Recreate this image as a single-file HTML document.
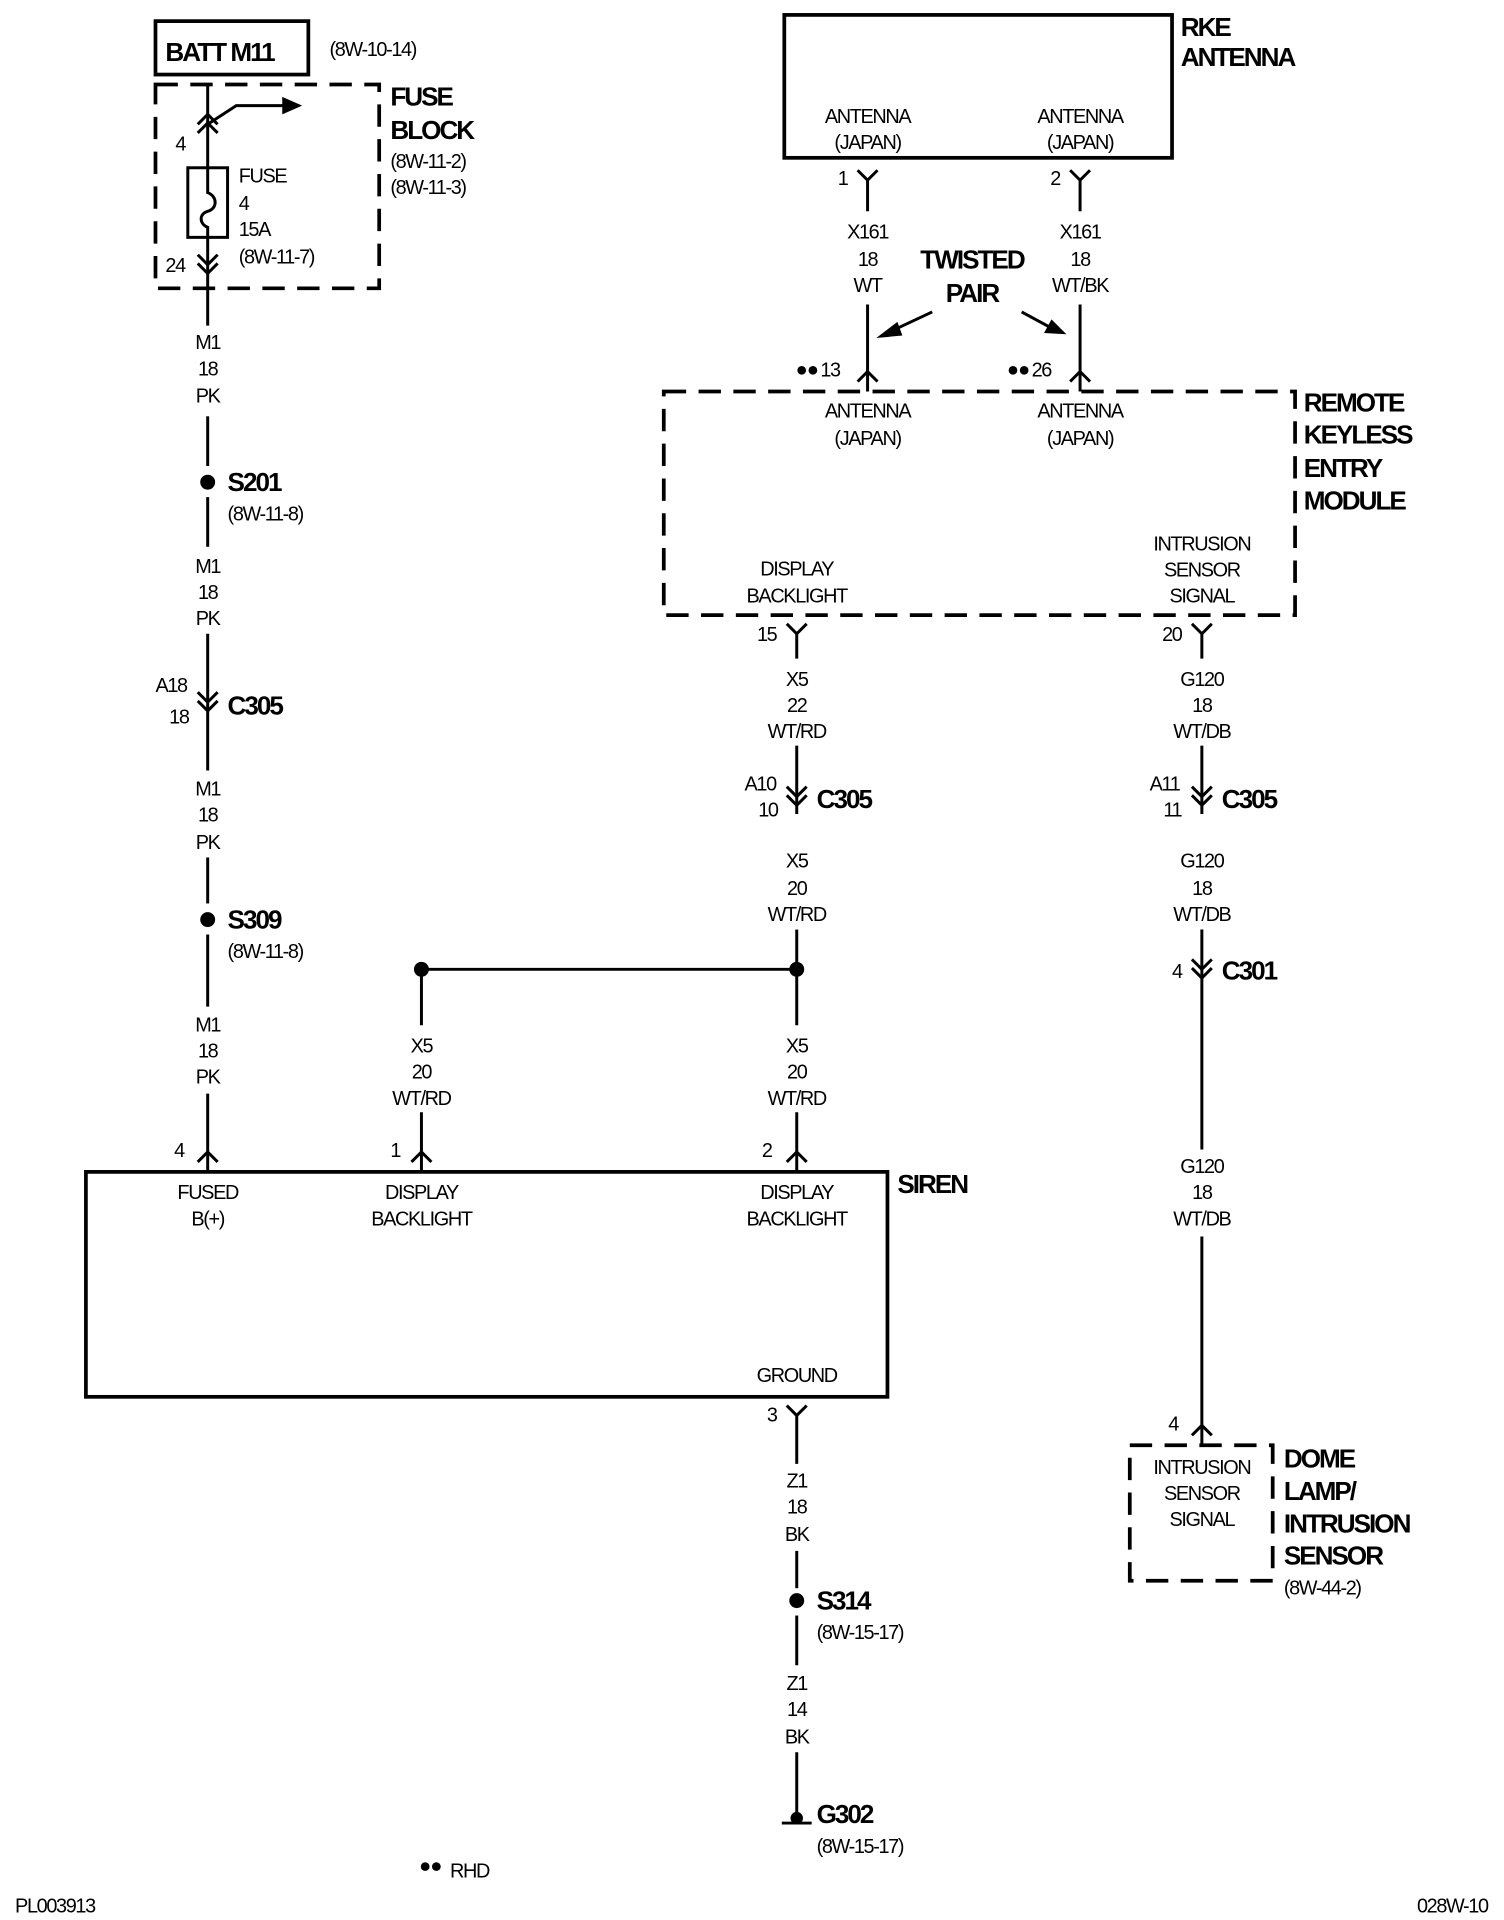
<!DOCTYPE html>
<html><head><style>
html,body{margin:0;padding:0;background:#fff;}
svg{display:block}
text{font-family:"Liberation Sans Narrow","Liberation Sans",sans-serif;fill:#000;}
.n{font-size:16px;text-anchor:middle;letter-spacing:-1.1px}
.l{font-size:16px;letter-spacing:-1.1px}
.b{font-size:21px;font-weight:bold;letter-spacing:-1.6px}
</style></head><body>
<svg width="1504" height="1920" viewBox="0 0 1210 1545" xmlns="http://www.w3.org/2000/svg">
<g stroke="#000" stroke-width="2.4" fill="none">
<rect x="125" y="17" width="123" height="43" stroke-width="3"/>
<rect x="125" y="68" width="180" height="164" stroke-width="3" stroke-dasharray="18,10"/>
<line x1="167" y1="68" x2="167" y2="262"/>
<path d="M159 107 L167 99 L175 107 M159 100 L167 92 L175 100"/>
<path d="M167 100 L190 85 L228 85"/>
<rect x="151" y="135" width="32" height="56" fill="#fff"/>
<path d="M167 135 V155 C175 158 175 168 167 170 C160 172 160 180 167 183 V191"/>
<path d="M159 205 L167 213 L175 205 M159 212 L167 220 L175 212"/>
<line x1="167" y1="335" x2="167" y2="375"/>
<line x1="167" y1="400" x2="167" y2="440"/>
<line x1="167" y1="510" x2="167" y2="620"/>
<path d="M159 557 L167 565 L175 557 M159 564 L167 572 L175 564"/>
<line x1="167" y1="690" x2="167" y2="727"/>
<line x1="167" y1="752" x2="167" y2="810"/>
<line x1="167" y1="880" x2="167" y2="943"/>
<path d="M159 935 L167 927 L175 935"/>
<rect x="69" y="943" width="645" height="181" stroke-width="3"/>
<line x1="339" y1="780" x2="641" y2="780"/>
<line x1="339" y1="780" x2="339" y2="825"/>
<line x1="339" y1="895" x2="339" y2="943"/>
<path d="M331 935 L339 927 L347 935"/>
<line x1="641" y1="780" x2="641" y2="825"/>
<line x1="641" y1="895" x2="641" y2="943"/>
<path d="M633 935 L641 927 L649 935"/>
<rect x="631" y="12" width="312" height="115" stroke-width="3"/>
<path d="M690 137 L698 145 L706 137 M698 145 V170"/>
<path d="M861 137 L869 145 L877 137 M869 145 V170"/>
<line x1="698" y1="245" x2="698" y2="315"/>
<path d="M690 307 L698 299 L706 307"/>
<line x1="869" y1="245" x2="869" y2="315"/>
<path d="M861 307 L869 299 L877 307"/>
<line x1="750" y1="251" x2="718" y2="266"/>
<line x1="822" y1="251" x2="846" y2="264"/>
<rect x="534" y="315" width="508" height="180" stroke-width="3" stroke-dasharray="18,10"/>
<path d="M633 502 L641 510 L649 502 M641 510 V530"/>
<path d="M959 502 L967 510 L975 502 M967 510 V530"/>
<line x1="641" y1="600" x2="641" y2="655"/>
<path d="M633 633 L641 641 L649 633 M633 640 L641 648 L649 640"/>
<line x1="641" y1="748" x2="641" y2="780"/>
<line x1="967" y1="600" x2="967" y2="655"/>
<path d="M959 633 L967 641 L975 633 M959 640 L967 648 L975 640"/>
<line x1="967" y1="748" x2="967" y2="925"/>
<path d="M959 772 L967 780 L975 772 M959 779 L967 787 L975 779"/>
<line x1="967" y1="995" x2="967" y2="1163"/>
<path d="M959 1155 L967 1147 L975 1155"/>
<rect x="909" y="1163" width="115" height="109" stroke-width="3" stroke-dasharray="18,10"/>
<path d="M633 1131 L641 1139 L649 1131 M641 1139 V1178"/>
<line x1="641" y1="1248" x2="641" y2="1278"/>
<line x1="641" y1="1300" x2="641" y2="1340"/>
<line x1="641" y1="1410" x2="641" y2="1460"/>
<line x1="629" y1="1467" x2="653" y2="1467"/>
</g>
<g fill="#000">
<polygon points="243,85 227,78 227,92"/>
<polygon points="705,272 722,259 726,270"/>
<polygon points="858,269 840,268 846,257"/>
<circle cx="167" cy="388" r="6"/>
<circle cx="167" cy="740" r="6"/>
<circle cx="339" cy="780" r="6"/>
<circle cx="641" cy="780" r="6"/>
<circle cx="641" cy="1288" r="6"/>
<circle cx="641" cy="1463" r="5"/>
<circle cx="645" cy="298" r="3.5"/><circle cx="654" cy="298" r="3.5"/>
<circle cx="815" cy="298" r="3.5"/><circle cx="824" cy="298" r="3.5"/>
<circle cx="342" cy="1502" r="3.5"/><circle cx="351" cy="1502" r="3.5"/>
</g>
<text class="b" x="133" y="49">BATT M11</text>
<text class="l" x="265" y="45">(8W-10-14)</text>
<text class="b" x="314" y="85">FUSE</text>
<text class="b" x="314" y="112">BLOCK</text>
<text class="l" x="314" y="135">(8W-11-2)</text>
<text class="l" x="314" y="156">(8W-11-3)</text>
<text class="l" x="141" y="121">4</text>
<text class="l" x="192" y="147">FUSE</text>
<text class="l" x="192" y="169">4</text>
<text class="l" x="192" y="190">15A</text>
<text class="l" x="192" y="212">(8W-11-7)</text>
<text class="l" x="133" y="219">24</text>
<g class="n">
<text x="167" y="281">M1</text><text x="167" y="302">18</text><text x="167" y="324">PK</text>
<text x="167" y="461">M1</text><text x="167" y="482">18</text><text x="167" y="503">PK</text>
<text x="167" y="640">M1</text><text x="167" y="661">18</text><text x="167" y="683">PK</text>
<text x="167" y="830">M1</text><text x="167" y="851">18</text><text x="167" y="872">PK</text>
<text x="339" y="847">X5</text><text x="339" y="868">20</text><text x="339" y="889">WT/RD</text>
<text x="641" y="847">X5</text><text x="641" y="868">20</text><text x="641" y="889">WT/RD</text>
<text x="167" y="965">FUSED</text><text x="167" y="986">B(+)</text>
<text x="339" y="965">DISPLAY</text><text x="339" y="986">BACKLIGHT</text>
<text x="641" y="965">DISPLAY</text><text x="641" y="986">BACKLIGHT</text>
<text x="641" y="1112">GROUND</text>
<text x="698" y="99">ANTENNA</text><text x="698" y="120">(JAPAN)</text>
<text x="869" y="99">ANTENNA</text><text x="869" y="120">(JAPAN)</text>
<text x="698" y="192">X161</text><text x="698" y="214">18</text><text x="698" y="235">WT</text>
<text x="869" y="192">X161</text><text x="869" y="214">18</text><text x="869" y="235">WT/BK</text>
<text x="698" y="336">ANTENNA</text><text x="698" y="358">(JAPAN)</text>
<text x="869" y="336">ANTENNA</text><text x="869" y="358">(JAPAN)</text>
<text x="641" y="463">DISPLAY</text><text x="641" y="485">BACKLIGHT</text>
<text x="967" y="443">INTRUSION</text><text x="967" y="464">SENSOR</text><text x="967" y="485">SIGNAL</text>
<text x="641" y="552">X5</text><text x="641" y="573">22</text><text x="641" y="594">WT/RD</text>
<text x="641" y="698">X5</text><text x="641" y="720">20</text><text x="641" y="741">WT/RD</text>
<text x="967" y="552">G120</text><text x="967" y="573">18</text><text x="967" y="594">WT/DB</text>
<text x="967" y="698">G120</text><text x="967" y="720">18</text><text x="967" y="741">WT/DB</text>
<text x="967" y="944">G120</text><text x="967" y="965">18</text><text x="967" y="986">WT/DB</text>
<text x="967" y="1186">INTRUSION</text><text x="967" y="1207">SENSOR</text><text x="967" y="1228">SIGNAL</text>
<text x="641" y="1197">Z1</text><text x="641" y="1218">18</text><text x="641" y="1240">BK</text>
<text x="641" y="1360">Z1</text><text x="641" y="1381">14</text><text x="641" y="1403">BK</text>
</g>
<text class="b" x="183" y="395">S201</text>
<text class="l" x="183" y="419">(8W-11-8)</text>
<text class="l" x="125" y="557">A18</text>
<text class="l" x="136" y="582">18</text>
<text class="b" x="183" y="575">C305</text>
<text class="b" x="183" y="747">S309</text>
<text class="l" x="183" y="771">(8W-11-8)</text>
<text class="l" x="140" y="931">4</text>
<text class="l" x="314" y="931">1</text>
<text class="l" x="613" y="931">2</text>
<text class="b" x="722" y="960">SIREN</text>
<text class="b" x="950" y="29">RKE</text>
<text class="b" x="950" y="53">ANTENNA</text>
<text class="l" x="674" y="149">1</text>
<text class="l" x="845" y="149">2</text>
<text class="b" x="782" y="216" text-anchor="middle">TWISTED</text>
<text class="b" x="782" y="243" text-anchor="middle">PAIR</text>
<text class="l" x="660" y="303">13</text>
<text class="l" x="830" y="303">26</text>
<text class="b" x="1049" y="331">REMOTE</text>
<text class="b" x="1049" y="357">KEYLESS</text>
<text class="b" x="1049" y="384">ENTRY</text>
<text class="b" x="1049" y="410">MODULE</text>
<text class="l" x="609" y="516">15</text>
<text class="l" x="935" y="516">20</text>
<text class="l" x="599" y="636">A10</text>
<text class="l" x="610" y="657">10</text>
<text class="b" x="657" y="650">C305</text>
<text class="l" x="925" y="636">A11</text>
<text class="l" x="936" y="657">11</text>
<text class="b" x="983" y="650">C305</text>
<text class="l" x="943" y="787">4</text>
<text class="b" x="983" y="788">C301</text>
<text class="l" x="940" y="1151">4</text>
<text class="b" x="1033" y="1181">DOME</text>
<text class="b" x="1033" y="1207">LAMP/</text>
<text class="b" x="1033" y="1233">INTRUSION</text>
<text class="b" x="1033" y="1259">SENSOR</text>
<text class="l" x="1033" y="1283">(8W-44-2)</text>
<text class="l" x="617" y="1144">3</text>
<text class="b" x="657" y="1295">S314</text>
<text class="l" x="657" y="1319">(8W-15-17)</text>
<text class="b" x="657" y="1467">G302</text>
<text class="l" x="657" y="1491">(8W-15-17)</text>
<text class="l" x="362" y="1511">RHD</text>
<text class="l" x="12" y="1539">PL003913</text>
<text class="l" x="1197" y="1539" text-anchor="end">028W-10</text>
</svg>
</body></html>
